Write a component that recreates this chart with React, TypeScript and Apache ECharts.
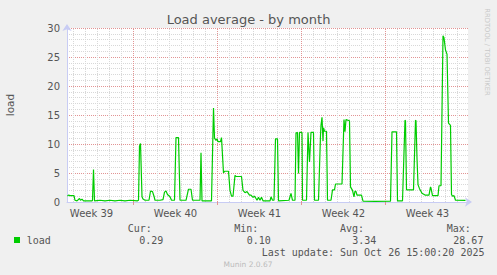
import React, { useEffect, useRef } from "react";
import * as echarts from "echarts";

// hours since Mon 22 Sep 2025 00:00
const hours = [
  36, 38, 41, 49, 51, 55, 60, 62, 65, 68, 85, 86, 88, 90, 101, 111, 121, 131, 141, 151, 161, 176,
  178, 180, 182, 185, 187, 191, 199, 202, 206, 209, 211, 221, 227, 230, 233, 236, 241, 244, 250,
  253, 258, 261, 273, 278, 283, 286, 301, 303, 305, 324, 328, 330, 333, 335, 337, 342, 344, 348,
  350, 358, 361, 364, 367, 371, 373, 384, 387, 391, 395, 400, 403, 407, 410, 413, 415, 418, 421,
  424, 427, 441, 443, 446, 449, 452, 456, 458, 479, 483, 486, 491, 493, 496, 498, 500, 505, 506,
  514, 517, 518, 520, 523, 528, 530, 538, 542, 543, 545, 547, 548, 550, 554, 556, 563, 566, 570,
  572, 585, 589, 591, 593, 600, 602, 606, 609, 611, 613, 615, 624, 627, 651, 682, 685, 694, 696,
  706, 711, 712, 714, 728, 732, 733, 735, 737, 740, 745, 751, 759, 762, 763, 766, 777, 779, 783,
  787, 789, 792, 795, 798, 802, 804, 806, 809, 812, 832,
];
const load = [
  1.0, 1.2, 1.1, 1.1, 0.3, 0.2, 0.6, 0.3, 0.5, 0.2, 0.2, 0.3, 5.6, 0.2, 0.3, 0.2, 0.3, 0.2, 0.3, 0.2, 0.3, 0.2,
  0.3, 9.6, 10.1, 0.9, 0.5, 0.3, 0.3, 1.9, 1.8, 1.0, 0.3, 0.3, 0.4, 1.7, 1.9, 1.3, 0.9, 0.3, 0.3,
  11.1, 11.1, 0.3, 0.3, 2.2, 2.2, 0.3, 0.3, 8.5, 0.2, 0.2, 16.2, 11.0, 10.6, 10.9, 10.4, 10.4, 11.1, 5.0,
  5.3, 5.3, 2.0, 1.0, 1.0, 4.6, 4.4, 4.4, 2.0, 1.6, 1.8, 1.2, 1.2, 0.8, 1.0, 0.6, 0.3, 0.8, 0.3,
  0.8, 0.2, 0.2, 0.9, 0.3, 0.3, 10.9, 10.9, 0.2, 0.3, 1.5, 0.3, 0.3, 11.9, 12.0, 4.9, 12.0, 12.0, 0.3,
  0.3, 12.0, 12.0, 6.9, 12.0, 12.0, 0.3, 0.3, 11.5, 13.2, 14.6, 10.5, 12.8, 12.2, 12.2, 0.3, 0.3, 2.1, 2.1,
  3.1, 3.1, 14.2, 12.1, 14.2, 14.0, 2.6, 2.0, 0.9, 1.9, 1.8, 1.2, 1.2, 0.15, 0.1, 0.15, 12.1, 12.1, 0.2,
  0.2, 14.1, 14.0, 2.1, 2.1, 14.1, 14.0, 7.5, 3.0, 2.3, 1.5, 1.2, 1.2, 2.6, 2.4, 1.1, 1.1, 2.8, 2.8,
  28.67, 28.3, 26.2, 25.5, 13.6, 13.2, 1.3, 1.0, 1.1, 0.3, 0.29,
];

const dayLines = [
  48, 72, 96, 120, 144, 192, 216, 240, 264, 288, 312, 360, 384, 408, 432, 456, 480, 528, 552, 576,
  600, 624, 648, 696, 720, 744, 768, 792, 816,
];
const weekLines = [168, 336, 504, 672];
const weekLabelHours = [84, 252, 420, 588, 756];
const weekLabels = ["Week 39", "Week 40", "Week 41", "Week 42", "Week 43"];

const statNames = ["Cur:", "Min:", "Avg:", "Max:"];
const statValues = ["0.29", "0.10", "3.34", "28.67"];
const seriesName = "load";
const lastUpdate = "Last update: Sun Oct 26 15:00:20 2025";

const TXT = "#555555";
const SANS = "DejaVu Sans";
const MONO = "DejaVu Sans Mono";
const MINOR = "#d8d8d8";
const MAJOR = "#e29494";

export default function App() {
  const ref = useRef<HTMLDivElement>(null);
  useEffect(() => {
    if (!ref.current) return;
    const chart = echarts.init(ref.current, undefined, { renderer: "svg" });
    const statNameX = [127.7, 234.3, 340, 446.7];
    const statValueX = [139.3, 246.7, 352.3, 453.3];
    const graphics: any[] = [
      {
        type: "text",
        x: 248.5,
        y: 19,
        style: { text: "Load average - by month", fontFamily: SANS, fontSize: 13, fill: TXT, align: "center", verticalAlign: "middle" },
      },
      {
        type: "text",
        x: 10,
        y: 105,
        rotation: Math.PI / 2,
        style: { text: "load", fontFamily: SANS, fontSize: 10.5, fill: TXT, align: "center", verticalAlign: "middle" },
      },
      {
        type: "text",
        x: 487,
        y: 52,
        rotation: -Math.PI / 2,
        style: { text: "RRDTOOL / TOBI OETIKER", fontFamily: SANS, fontSize: 6.8, fill: "#c8c8c8", align: "center", verticalAlign: "middle" },
      },
      { type: "rect", shape: { x: 14, y: 237, width: 6, height: 6 }, style: { fill: "#00CC00" } },
      {
        type: "text",
        x: 26.7,
        y: 240,
        style: { text: seriesName, fontFamily: MONO, fontSize: 10, fill: TXT, align: "left", verticalAlign: "middle" },
      },
      {
        type: "text",
        x: 261.7,
        y: 252,
        style: { text: lastUpdate, fontFamily: MONO, fontSize: 10, fill: TXT, align: "left", verticalAlign: "middle" },
      },
      {
        type: "text",
        x: 248,
        y: 264,
        style: { text: "Munin 2.0.67", fontFamily: SANS, fontSize: 7.5, fill: "#bbbbbb", align: "center", verticalAlign: "middle" },
      },
    ];
    statNames.forEach((n, i) => {
      graphics.push({
        type: "text",
        x: statNameX[i],
        y: 228,
        style: { text: n, fontFamily: MONO, fontSize: 10, fill: TXT, align: "left", verticalAlign: "middle" },
      });
      graphics.push({
        type: "text",
        x: statValueX[i],
        y: 240,
        style: { text: statValues[i], fontFamily: MONO, fontSize: 10, fill: TXT, align: "left", verticalAlign: "middle" },
      });
    });

    chart.setOption({
      animation: false,
      backgroundColor: "#F0F0F0",
      grid: {
        left: 67,
        top: 28,
        width: 401,
        height: 174,
        show: true,
        backgroundColor: "#FFFFFF",
        borderWidth: 0,
      },
      xAxis: {
        type: "value",
        min: 35,
        max: 837,
        axisLine: {
          show: true,
          lineStyle: { color: "#c8ccf4", width: 1 },
          symbol: ["none", "arrow"],
          symbolSize: [7, 7],
          symbolOffset: [0, 4],
        },
        axisTick: { show: true, customValues: weekLines, length: 3, lineStyle: { color: MAJOR } },
        splitLine: { show: false },
        axisLabel: {
          show: true,
          customValues: weekLabelHours,
          formatter: (v: number) => weekLabels[weekLabelHours.indexOf(Math.round(v))] ?? "",
          fontFamily: SANS,
          fontSize: 10,
          color: TXT,
          margin: 6,
        },
      },
      yAxis: {
        type: "value",
        min: 0,
        max: 30,
        interval: 5,
        axisLine: {
          show: true,
          lineStyle: { color: "#c8ccf4", width: 1 },
          symbol: ["none", "arrow"],
          symbolSize: [7, 7],
          symbolOffset: [0, 4],
        },
        axisTick: { show: false },
        axisLabel: { fontFamily: SANS, fontSize: 10, color: TXT, margin: 7 },
        splitLine: { show: true, lineStyle: { color: MAJOR, type: [1, 1], width: 1 } },
        minorTick: { show: false, splitNumber: 5 },
        minorSplitLine: { show: true, lineStyle: { color: MINOR, type: [1, 1], width: 1 } },
      },
      series: [
        {
          type: "line",
          data: [],
          silent: true,
          markLine: {
            silent: true,
            symbol: ["none", "none"],
            z: 1,
            label: { show: false },
            animation: false,
            lineStyle: { type: [1, 1], width: 1 },
            data: [
              ...dayLines.map((v) => ({ xAxis: v, lineStyle: { color: MINOR, type: [1, 1], width: 1 } })),
              ...weekLines.map((v) => ({ xAxis: v, lineStyle: { color: MAJOR, type: [1, 1], width: 1 } })),
            ],
          },
        },
        {
          type: "line",
          name: seriesName,
          z: 3,
          data: hours.map((h, i) => [h, load[i]]),
          showSymbol: false,
          symbol: "none",
          lineStyle: { color: "#00CC00", width: 1.2 },
          itemStyle: { color: "#00CC00" },
        },
      ],
      graphic: graphics,
    });
    return () => chart.dispose();
  }, []);
  return <div ref={ref} style={{ position: "fixed", left: 0, top: 0, width: 497, height: 275 }} />;
}
